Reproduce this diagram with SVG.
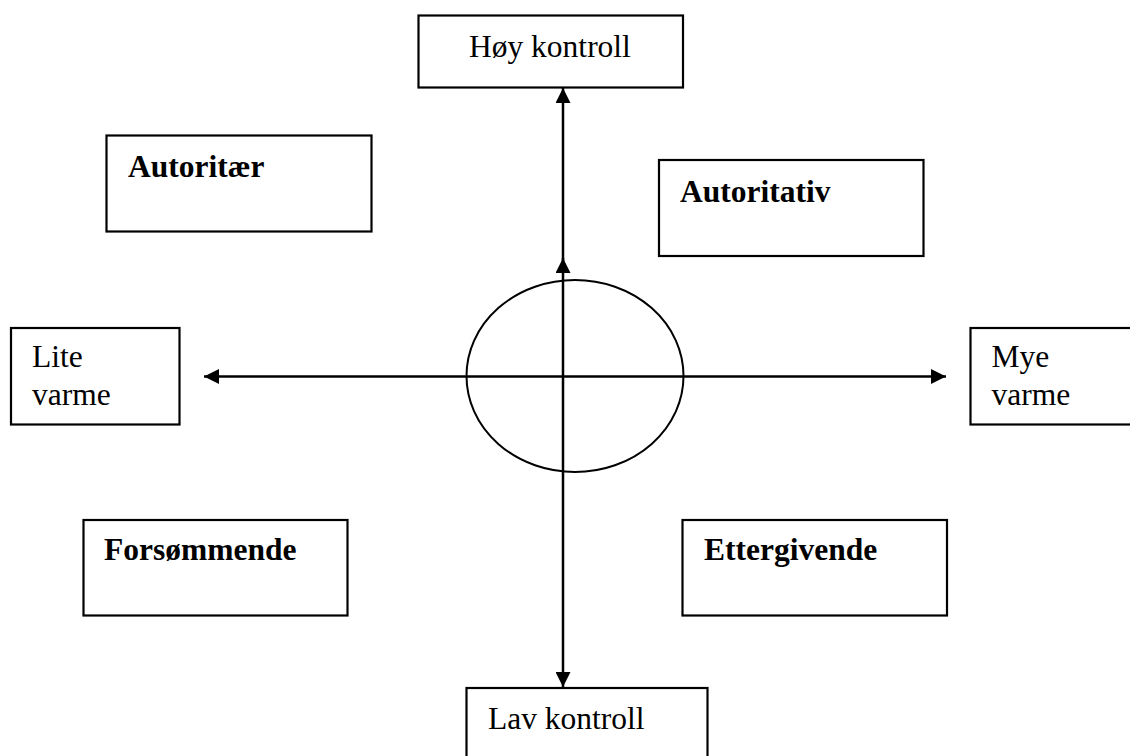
<svg xmlns="http://www.w3.org/2000/svg" width="1130" height="756" viewBox="0 0 1130 756">
  <defs>
    <marker id="arrow" viewBox="0 0 15 15" refX="15" refY="7.5" markerWidth="15" markerHeight="15" markerUnits="userSpaceOnUse" orient="auto-start-reverse">
      <path d="M0,0 L15,7.5 L0,15 z" fill="#000"/>
    </marker>
    <style>
      .box { fill: #fff; stroke: #000; stroke-width: 2.2; }
      .axis { stroke: #000; stroke-width: 2.5; fill: none; }
      .label { font-family: "Liberation Serif", "Times New Roman", serif; font-size: 31.5px; fill: #000; }
      .style { font-family: "Liberation Serif", "Times New Roman", serif; font-size: 31.5px; font-weight: bold; fill: #000; }
    </style>
  </defs>
  <rect width="1130" height="756" fill="#fff"/>

  <!-- axes: warmth (horizontal) and control (vertical) around the centre ellipse -->
  <g id="connectors">
    <ellipse cx="575" cy="376" rx="108.5" ry="96" fill="none" stroke="#000" stroke-width="2"/>
    <line class="axis" x1="204" y1="376.5" x2="946" y2="376.5" marker-start="url(#arrow)" marker-end="url(#arrow)"/>
    <line class="axis" x1="563" y1="687" x2="563" y2="258" marker-start="url(#arrow)" marker-end="url(#arrow)"/>
    <line class="axis" x1="563" y1="272" x2="563" y2="88" marker-end="url(#arrow)"/>
  </g>

  <g id="hoy-kontroll">
    <rect class="box" x="418.5" y="15.5" width="264.5" height="72"/>
    <text class="label" x="469" y="57">Høy kontroll</text>
  </g>

  <g id="lav-kontroll">
    <rect class="box" x="466.5" y="688" width="241" height="80"/>
    <text class="label" x="488" y="729">Lav kontroll</text>
  </g>

  <g id="lite-varme">
    <rect class="box" x="11" y="328" width="168.5" height="96.5"/>
    <text class="label" x="32" y="367">Lite</text>
    <text class="label" x="32" y="405">varme</text>
  </g>

  <g id="mye-varme">
    <rect class="box" x="970.5" y="328" width="180" height="96.5"/>
    <text class="label" x="991.5" y="367">Mye</text>
    <text class="label" x="991.5" y="405">varme</text>
  </g>

  <g id="autoritaer">
    <rect class="box" x="106.5" y="135.5" width="265" height="96"/>
    <text class="style" x="128" y="177">Autoritær</text>
  </g>

  <g id="autoritativ">
    <rect class="box" x="659" y="160" width="264.5" height="96"/>
    <text class="style" x="680" y="202">Autoritativ</text>
  </g>

  <g id="forsommende">
    <rect class="box" x="83.5" y="520" width="264" height="95.5"/>
    <text class="style" x="104" y="560">Forsømmende</text>
  </g>

  <g id="ettergivende">
    <rect class="box" x="682.5" y="520" width="264.5" height="95.5"/>
    <text class="style" x="704" y="560">Ettergivende</text>
  </g>
</svg>
